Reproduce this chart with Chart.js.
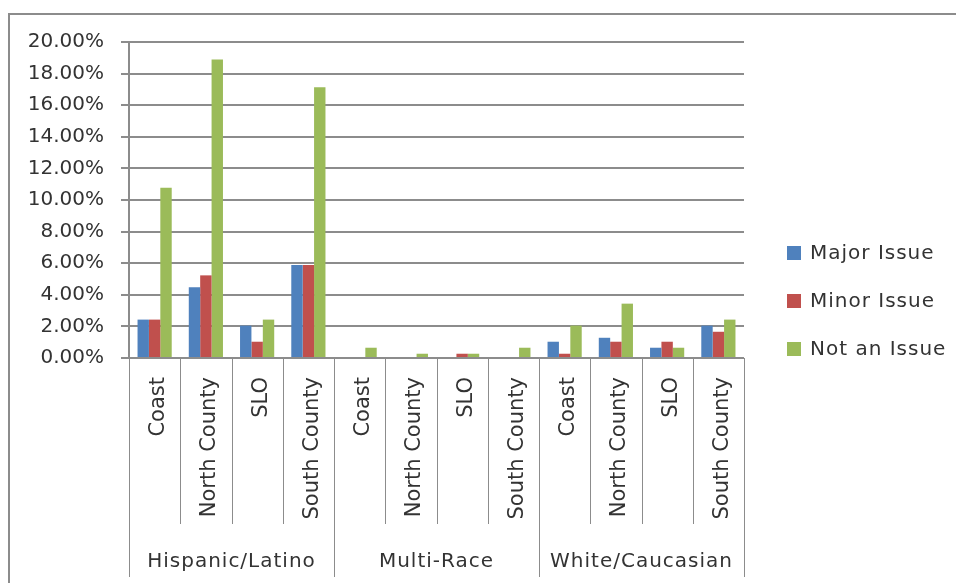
<!DOCTYPE html>
<html>
<head>
<meta charset="utf-8">
<script src="https://cdn.jsdelivr.net/npm/chart.js@4.4.1/dist/chart.umd.min.js"></script>
<style>
  html, body { margin: 0; padding: 0; background: #fff; overflow: hidden; }
  canvas { display: block; }
</style>
</head>
<body>
<canvas id="grafico" width="956" height="583"></canvas>
<script>
/* ---- datos ---- */
const grupos = ['Hispanic/Latino', 'Multi-Race', 'White/Caucasian'];
const regiones = ['Coast', 'North County', 'SLO', 'South County'];
const categorias = grupos.flatMap(() => regiones);

const serieNombres = ['Major Issue', 'Minor Issue', 'Not an Issue'];
const majorIssue = [2.43, 4.47, 2.05, 5.89, 0, 0, 0, 0, 1.03, 1.28, 0.65, 2.05];
const minorIssue = [2.43, 5.23, 1.03, 5.89, 0, 0, 0.27, 0, 0.27, 1.03, 1.03, 1.66];
const notAnIssue = [10.78, 18.9, 2.43, 17.13, 0.65, 0.27, 0.27, 0.65, 2.05, 3.44, 0.65, 2.43];

const yTicks = [0, 2, 4, 6, 8, 10, 12, 14, 16, 18, 20];

/* ---- estilo ---- */
const COLORES = ['#4F81BD', '#C0504D', '#9BBB59'];
const FUENTE = 'DejaVu Sans';
const GRIS = '#8c8c8c';
const TEXTO = '#333333';

// marco exterior del gráfico (solo borde izquierdo y superior visibles)
const marco = {
  id: 'marco',
  beforeDraw(chart) {
    const { ctx, width, height } = chart;
    ctx.save();
    ctx.strokeStyle = GRIS;
    ctx.lineWidth = 2;
    ctx.beginPath();
    ctx.moveTo(9, height);
    ctx.lineTo(9, 14);
    ctx.lineTo(width, 14);
    ctx.stroke();
    ctx.restore();
  }
};

// separadores bajo el eje x + etiquetas de grupo + leyenda
const ejeMultinivel = {
  id: 'ejeMultinivel',
  afterDraw(chart) {
    const { ctx, chartArea, scales: { x } } = chart;
    const n = categorias.length;
    const paso = x.width / n;
    const base = chartArea.bottom;

    ctx.save();
    ctx.strokeStyle = GRIS;
    ctx.lineWidth = 1;
    for (let k = 0; k <= n; k++) {
      const px = Math.round(x.left + k * paso) + 0.5;
      const largo = k % regiones.length === 0 ? 219 : 166;
      ctx.beginPath();
      ctx.moveTo(px, base);
      ctx.lineTo(px, base + largo);
      ctx.stroke();
    }

    ctx.fillStyle = TEXTO;
    ctx.font = `20px "${FUENTE}"`;
    ctx.letterSpacing = '1px';
    ctx.textAlign = 'center';
    ctx.textBaseline = 'middle';
    grupos.forEach((g, i) => {
      const cx = x.left + (i + 0.5) * regiones.length * paso;
      ctx.fillText(g, cx, base + 204);
    });

    // leyenda
    ctx.textAlign = 'left';
    chart.data.datasets.forEach((ds, i) => {
      const y = 253 + i * 48;
      const bx = chartArea.right + 43;
      ctx.fillStyle = ds.backgroundColor;
      ctx.fillRect(bx, y - 7, 14, 14);
      ctx.fillStyle = TEXTO;
      ctx.fillText(ds.label, bx + 23, y + 1);
    });
    ctx.restore();
  }
};

new Chart(document.getElementById('grafico'), {
  type: 'bar',
  data: {
    labels: categorias,
    datasets: [majorIssue, minorIssue, notAnIssue].map((valores, i) => ({
      label: serieNombres[i],
      data: valores,
      backgroundColor: COLORES[i],
      categoryPercentage: 0.667,
      barPercentage: 1,
    })),
  },
  options: {
    responsive: false,
    animation: false,
    layout: { padding: { left: 0, top: 42, right: 212, bottom: 0 } },
    plugins: {
      legend: { display: false },
      tooltip: { enabled: false },
    },
    scales: {
      x: {
        grid: { display: false },
        border: { display: false },
        ticks: {
          autoSkip: false,
          minRotation: 90,
          maxRotation: 90,
          padding: 11,
          labelOffset: 4,
          color: TEXTO,
          font: { family: FUENTE, size: 21 },
        },
        afterFit: s => { s.height = 225; },
      },
      y: {
        min: yTicks[0],
        max: yTicks[yTicks.length - 1],
        afterBuildTicks: s => { s.ticks = yTicks.map(v => ({ value: v })); },
        grid: { color: GRIS, lineWidth: 2, tickLength: 8 },
        border: { color: GRIS, width: 2 },
        ticks: {
          padding: 17,
          color: TEXTO,
          font: { family: FUENTE, size: 20 },
          callback: v => v.toFixed(2) + '%',
        },
        afterFit: s => { s.width = 129; },
      },
    },
  },
  plugins: [marco, ejeMultinivel],
});
</script>
</body>
</html>
